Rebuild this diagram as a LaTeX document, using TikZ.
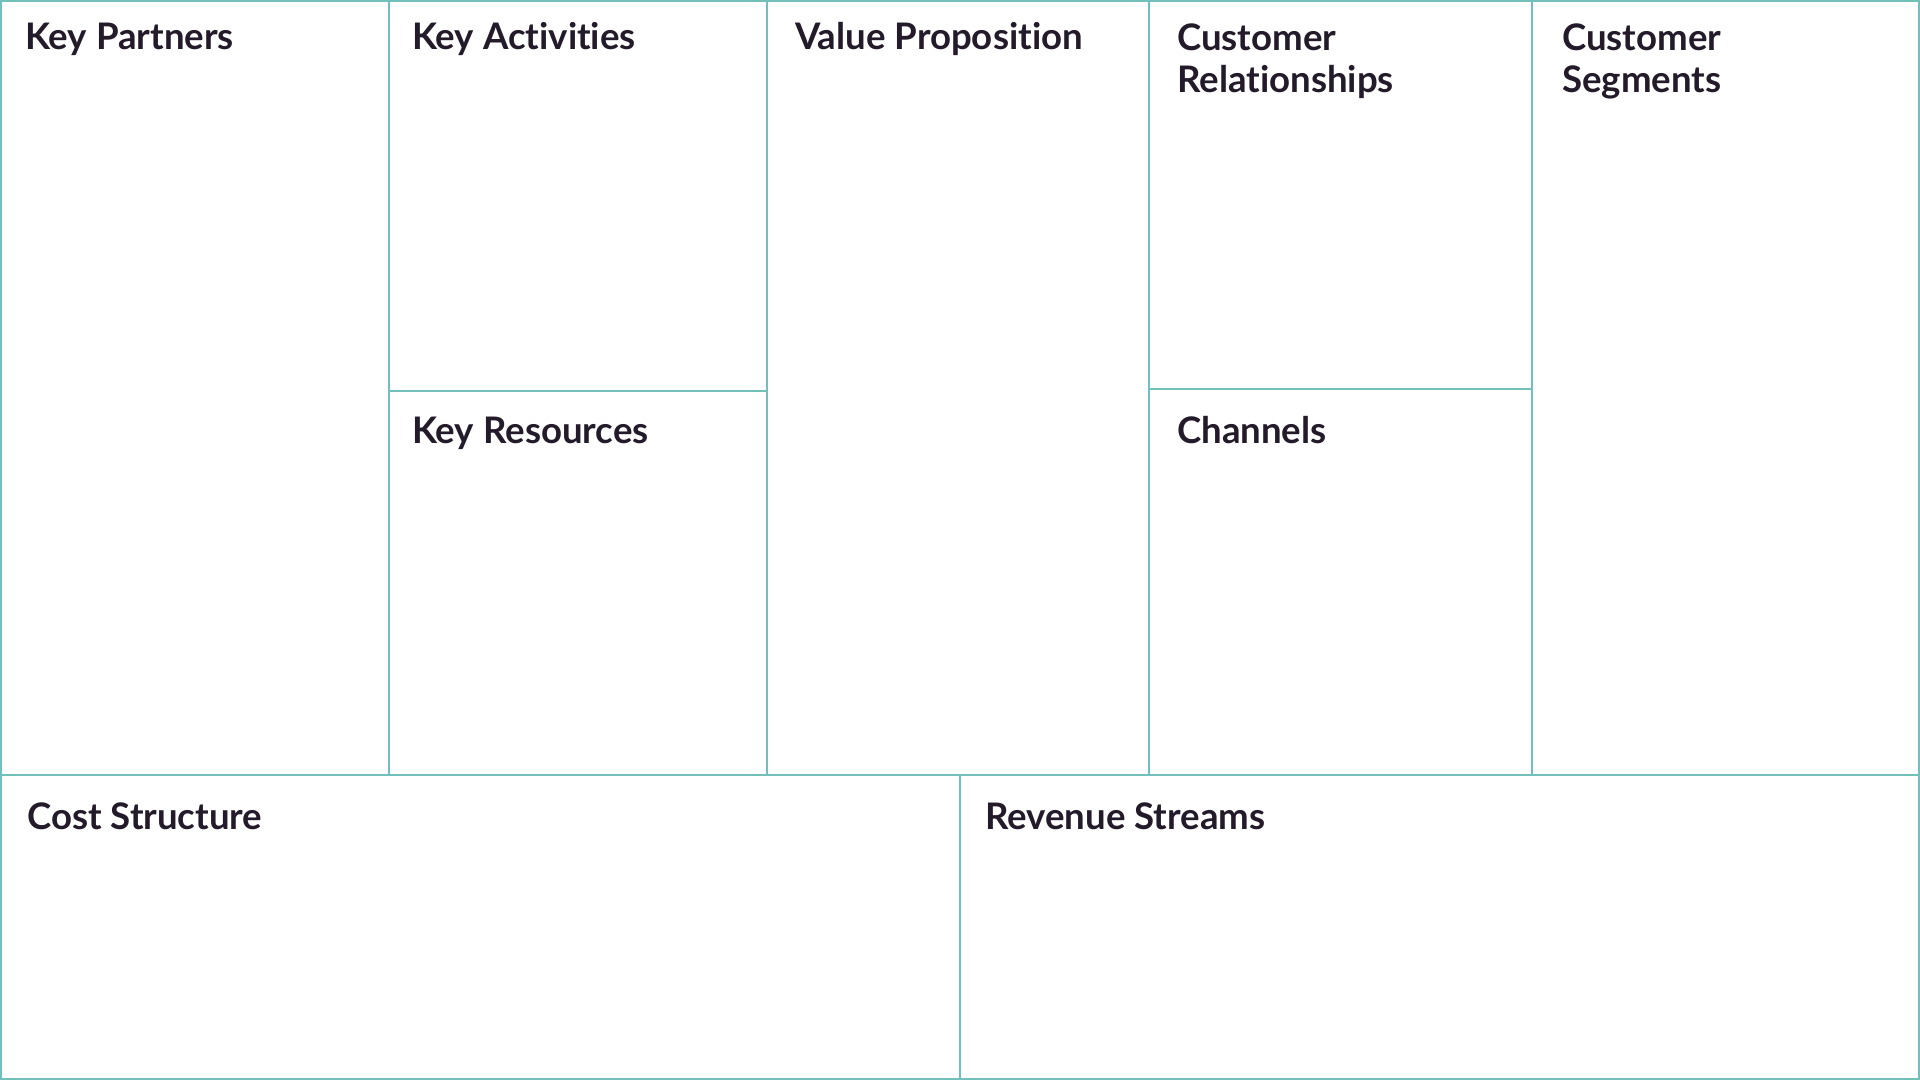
\documentclass[tikz,border=0pt]{standalone}
\usepackage{fontspec}
\setmainfont{Lato}[Ligatures=CommonOff]
\usetikzlibrary{positioning}

\definecolor{gridteal}{HTML}{72C0BC}
\definecolor{inkdark}{HTML}{231B29}

\tikzset{
	grid line/.style={draw=gridteal, line width=2pt},
	block title/.style={anchor=base west, inner sep=0pt, text=inkdark, align=left,
		font=\fontsize{36.6}{42.5}\selectfont\bfseries}
}

\begin{document}
\begin{tikzpicture}[x=1pt, y=-1pt]
		\useasboundingbox (0,0) rectangle (1920,1080);

		% frame and dividers
		\draw [grid line] (1,1) rectangle (1919,1079);
		\draw [grid line] (1,775) -- (1919,775);
		\draw [grid line] (389,1) -- (389,775);
		\draw [grid line] (767,1) -- (767,775);
		\draw [grid line] (1149,1) -- (1149,775);
		\draw [grid line] (1532,1) -- (1532,775);
		\draw [grid line] (389,391) -- (767,391);
		\draw [grid line] (1149,389) -- (1532,389);
		\draw [grid line] (960,775) -- (960,1079);

		% titles (two-line ones sit on the baseline of their last line)
		\draw (25,49.5) node [block title] (partners) {Key Partners};
		\draw (412,49.5) node [block title] (activities) {Key Activities};
		\draw (412,443.5) node [block title] (resources) {Key Resources};
		\draw (795,49.5) node [block title] (value) {Value Proposition};
		\draw (1177,92.5) node [block title] (relations) {Customer\\Relationships};
		\draw (1177,443.5) node [block title] (channels) {Channels};
		\draw (1562,92.5) node [block title] (segments) {Customer\\Segments};
		\draw (27,829.5) node [block title] (costs) {Cost Structure};
		\draw (985,829.5) node [block title] (revenue) {Revenue Streams};
	\end{tikzpicture}
\end{document}
